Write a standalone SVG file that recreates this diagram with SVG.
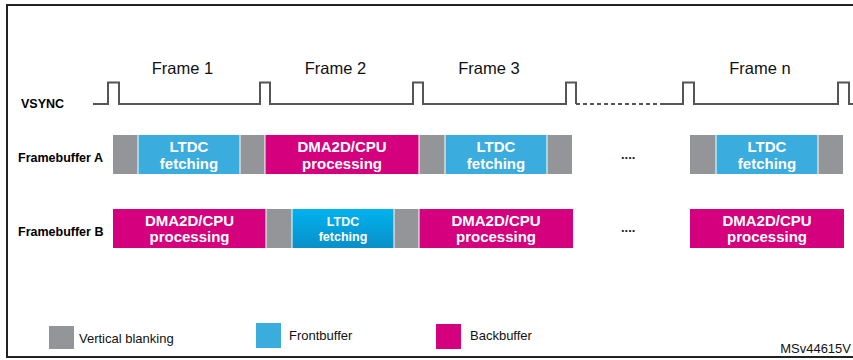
<svg xmlns="http://www.w3.org/2000/svg" width="853" height="360" viewBox="0 0 853 360">
  <defs>
    <linearGradient id="frontGrad" x1="0" y1="0" x2="0" y2="1">
      <stop offset="0" stop-color="#00B2EE"/>
      <stop offset="1" stop-color="#0A8FC8"/>
    </linearGradient>
    <style>
      .blank { fill: #939598; }
      .front { fill: #3AACDE; }
      .back { fill: #D5007D; }
      .sep { stroke: #ffffff; stroke-width: 1; }
      .blk { font-family: "Liberation Sans", Arial, sans-serif; font-weight: bold; font-size: 15px; fill: #ffffff; text-anchor: middle; }
      .blk-s { font-size: 12.5px; }
      .row { font-family: "Liberation Sans", Arial, sans-serif; font-weight: bold; font-size: 12.5px; fill: #000000; }
      .frame { font-family: "Liberation Sans", Arial, sans-serif; font-size: 16.5px; fill: #111111; text-anchor: middle; }
      .legend { font-family: "Liberation Sans Narrow", "Liberation Sans", Arial, sans-serif; font-size: 13px; fill: #111111; }
      .wave { fill: none; stroke: #555555; stroke-width: 2; stroke-linejoin: miter; }
      .dots { font-family: "Liberation Sans", Arial, sans-serif; font-weight: bold; font-size: 13px; fill: #222222; }
    </style>
  </defs>

  <rect width="853" height="360" fill="#ffffff"/>
  <!-- outer frame (right side runs past the canvas) -->
  <rect x="7" y="5" width="900" height="352" fill="none" stroke="#222222" stroke-width="2"/>

  <!-- frame titles -->
  <g id="frame-labels">
    <text class="frame" x="182.5" y="74">Frame 1</text>
    <text class="frame" x="335.5" y="74">Frame 2</text>
    <text class="frame" x="489" y="74">Frame 3</text>
    <text class="frame" x="760" y="74">Frame n</text>
  </g>

  <!-- VSYNC signal -->
  <g id="vsync">
    <text class="row" x="21" y="107.5">VSYNC</text>
    <path class="wave" d="M93,104 H108 V82.5 H119 V104 H260 V82.5 H270 V104 H413 V82.5 H423 V104 H566 V82.5 H576 V104"/>
    <path class="wave" d="M576,104 H661" stroke-dasharray="4 3"/>
    <path class="wave" d="M661,104 H683 V82.5 H694 V104 H838 V82.5 H849 V104 H853"/>
  </g>

  <!-- Framebuffer A -->
  <g id="framebuffer-a">
    <text class="row" x="18" y="162">Framebuffer A</text>
    <rect class="blank" x="113" y="135" width="25" height="39"/>
    <rect class="front" x="138" y="135" width="102" height="39"/>
    <rect class="blank" x="240" y="135" width="25" height="39"/>
    <rect class="back" x="265" y="135" width="154" height="39"/>
    <rect class="blank" x="419" y="135" width="26" height="39"/>
    <rect class="front" x="445" y="135" width="102" height="39"/>
    <rect class="blank" x="547" y="135" width="25" height="39"/>
    <rect class="blank" x="690" y="135" width="26" height="39"/>
    <rect class="front" x="716" y="135" width="102" height="39"/>
    <rect class="blank" x="818" y="135" width="25" height="39"/>
    <path class="sep" d="M138,135 V174 M240,135 V174 M265,135 V174 M419,135 V174 M445,135 V174 M547,135 V174 M716,135 V174 M818,135 V174"/>
    <text class="blk" x="189" y="152">LTDC</text>
    <text class="blk" x="189" y="168.5">fetching</text>
    <text class="blk" x="342" y="152">DMA2D/CPU</text>
    <text class="blk" x="342" y="168.5">processing</text>
    <text class="blk" x="496" y="152">LTDC</text>
    <text class="blk" x="496" y="168.5">fetching</text>
    <text class="blk" x="767" y="152">LTDC</text>
    <text class="blk" x="767" y="168.5">fetching</text>
    <text class="dots" x="621" y="159">....</text>
  </g>

  <!-- Framebuffer B -->
  <g id="framebuffer-b">
    <text class="row" x="18" y="236">Framebuffer B</text>
    <rect class="back" x="113" y="209" width="153" height="39"/>
    <rect class="blank" x="266" y="209" width="26" height="39"/>
    <rect fill="url(#frontGrad)" x="292" y="209" width="102" height="39"/>
    <rect class="blank" x="394" y="209" width="25" height="39"/>
    <rect class="back" x="419" y="209" width="154" height="39"/>
    <rect class="back" x="690" y="209" width="154" height="39"/>
    <path class="sep" d="M266,209 V248 M292,209 V248 M394,209 V248 M419,209 V248"/>
    <text class="blk" x="189.5" y="226">DMA2D/CPU</text>
    <text class="blk" x="189.5" y="242">processing</text>
    <text class="blk blk-s" x="343" y="226">LTDC</text>
    <text class="blk blk-s" x="343" y="241">fetching</text>
    <text class="blk" x="496" y="226">DMA2D/CPU</text>
    <text class="blk" x="496" y="242">processing</text>
    <text class="blk" x="767" y="226">DMA2D/CPU</text>
    <text class="blk" x="767" y="242">processing</text>
    <text class="dots" x="621" y="232">....</text>
  </g>

  <!-- legend -->
  <g id="legend">
    <rect class="blank" x="49" y="326" width="25" height="23"/>
    <text class="legend" x="79" y="343">Vertical blanking</text>
    <rect class="front" x="256" y="323" width="25" height="25"/>
    <text class="legend" x="289" y="340">Frontbuffer</text>
    <rect class="back" x="436" y="324" width="25" height="25"/>
    <text class="legend" x="470" y="340">Backbuffer</text>
  </g>

  <text class="legend" x="851" y="353" text-anchor="end" font-size="12.5">MSv44615V</text>
</svg>
